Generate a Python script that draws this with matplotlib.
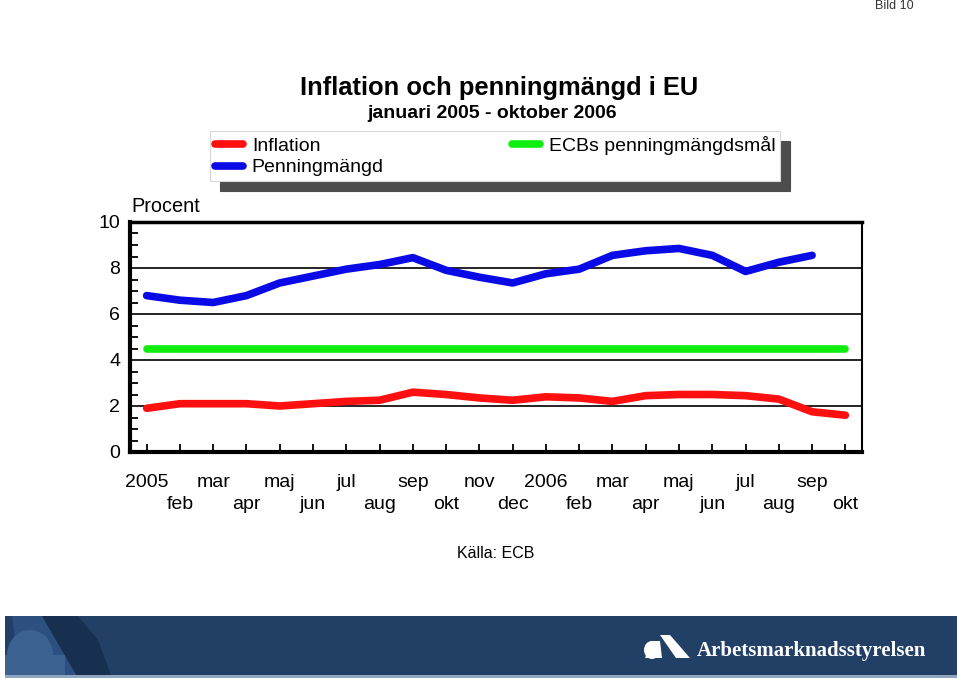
import matplotlib
matplotlib.use("Agg")
import matplotlib.pyplot as plt
from matplotlib.lines import Line2D
from matplotlib.patches import Polygon, Rectangle, Ellipse

plt.rcParams['font.family'] = ['Liberation Sans', 'DejaVu Sans']

# --- Data ---
month_labels = ["2005", "feb", "mar", "apr", "maj", "jun", "jul", "aug", "sep", "okt", "nov", "dec",
                "2006", "feb", "mar", "apr", "maj", "jun", "jul", "aug", "sep", "okt"]
inflation = [1.9, 2.1, 2.1, 2.1, 2.0, 2.1, 2.2, 2.25, 2.6, 2.5, 2.35, 2.25,
             2.4, 2.35, 2.2, 2.45, 2.5, 2.5, 2.45, 2.3, 1.75, 1.6]
penningmangd = [6.8, 6.6, 6.5, 6.8, 7.35, 7.65, 7.95, 8.15, 8.45, 7.9, 7.6, 7.35,
                7.75, 7.95, 8.55, 8.75, 8.85, 8.55, 7.85, 8.25, 8.55]
ecb_target = [4.5] * 22

RED = "#ff1010"
BLUE = "#0a0ae6"
GREEN = "#10ee10"

fig = plt.figure(figsize=(9.6, 6.81), dpi=100)
W, H = 960, 681


def fx(px):
    return px / W


def fy(py):
    return 1 - py / H


# --- Main chart ---
ax = fig.add_axes([fx(130), fy(452), fx(862) - fx(130), fy(222) - fy(452)])
x_all = list(range(len(month_labels)))
lw = 5.5
ax.plot(x_all, ecb_target, color=GREEN, lw=lw, solid_capstyle='round', zorder=3)
ax.plot(x_all, inflation, color=RED, lw=lw, solid_capstyle='round', zorder=4)
ax.plot(x_all[:len(penningmangd)], penningmangd, color=BLUE, lw=lw, solid_capstyle='round', zorder=4)

ax.set_xlim(-0.5, 21.5)
ax.set_ylim(0, 10)
ax.set_yticks([0, 2, 4, 6, 8, 10])
ax.set_yticks([v * 0.5 for v in range(21)], minor=True)
ax.yaxis.grid(True, which='major', color='black', lw=1.2)
ax.set_axisbelow(True)
ax.set_xticks(x_all)
ax.set_xticklabels([lab if i % 2 == 0 else "\n" + lab for i, lab in enumerate(month_labels)],
                   linespacing=1.35)
ax.tick_params(axis='x', direction='in', length=6, width=1.3, labelsize=14, pad=16)
ax.tick_params(axis='y', which='both', direction='in', length=6, width=1.3, labelsize=14, pad=7)
ax.tick_params(axis='y', which='major', length=0)
for side, w in [('left', 3), ('bottom', 3), ('top', 2.5), ('right', 1.5)]:
    ax.spines[side].set_linewidth(w)

fig.text(fx(131), fy(207), "Procent", fontsize=14.3, ha='left', va='center')

# --- Titles ---
fig.text(fx(499), fy(88), "Inflation och penningmängd i EU", fontsize=18.4, fontweight='bold',
         ha='center', va='center')
fig.text(fx(492), fy(114), "januari 2005 - oktober 2006", fontsize=14, fontweight='bold',
         ha='center', va='center')

# --- Legend ---
handles = [Line2D([], [], color=RED, lw=5.5, solid_capstyle='round'),
           Line2D([], [], color=BLUE, lw=5.5, solid_capstyle='round'),
           Line2D([], [], color=GREEN, lw=5.5, solid_capstyle='round')]
leg = fig.legend(handles, ["Inflation", "Penningmängd", "ECBs penningmängdsmål"],
                 ncol=2, mode='expand', loc='upper left', borderaxespad=0,
                 bbox_to_anchor=(fx(210), fy(183), fx(780) - fx(210), fy(131) - fy(183)),
                 fontsize=14, handlelength=1.45, handletextpad=0.45, labelspacing=0.2,
                 borderpad=0.25, fancybox=False, framealpha=1,
                 shadow={'ox': 7.2, 'oy': -7.2, 'color': '#4d4d4d', 'alpha': 1})
leg.get_frame().set_edgecolor('#d8d8d8')
leg.get_frame().set_linewidth(0.8)

fig.text(fx(496), fy(553), "Källa: ECB", fontsize=11.5, ha='center', va='center')
fig.text(fx(894), fy(6), "Bild 10", fontsize=9, color='#333333', ha='center', va='center')

# --- Bottom banner ---
bx = fig.add_axes([fx(5), fy(678), fx(957) - fx(5), fy(616) - fy(678)])
bx.set_xlim(5, 957)
bx.set_ylim(678, 616)
bx.set_facecolor('#223f66')
bx.set_xticks([])
bx.set_yticks([])
for s in bx.spines.values():
    s.set_visible(False)
bx.add_patch(Polygon([(12, 616), (42, 616), (78, 678), (20, 678)], closed=True,
                     color='#2e5080', lw=0))
bx.add_patch(Polygon([(42, 616), (78, 616), (98, 640), (112, 678), (78, 678)], closed=True,
                     color='#18304f', lw=0))
bx.add_patch(Ellipse((30, 655), 46, 50, color='#3c6292', lw=0))
bx.add_patch(Rectangle((5, 655), 60, 23, color='#3c6292', lw=0))
bx.add_patch(Rectangle((5, 675), 952, 3, color='#8ea6c0', lw=0))
# logo
bx.add_patch(Ellipse((652, 650), 16, 18, color='white', lw=0))
bx.add_patch(Polygon([(645, 658), (652, 641), (660, 641), (662, 658)], closed=True, color='white', lw=0))
bx.add_patch(Polygon([(660, 635), (670, 635), (690, 658), (676, 658)], closed=True, color='white', lw=0))
bx.text(697, 651, "Arbetsmarknadsstyrelsen", color='white', fontsize=15, fontweight='bold',
        family='Liberation Serif', ha='left', va='center')

fig.savefig("out.png", dpi=100, facecolor='white')
